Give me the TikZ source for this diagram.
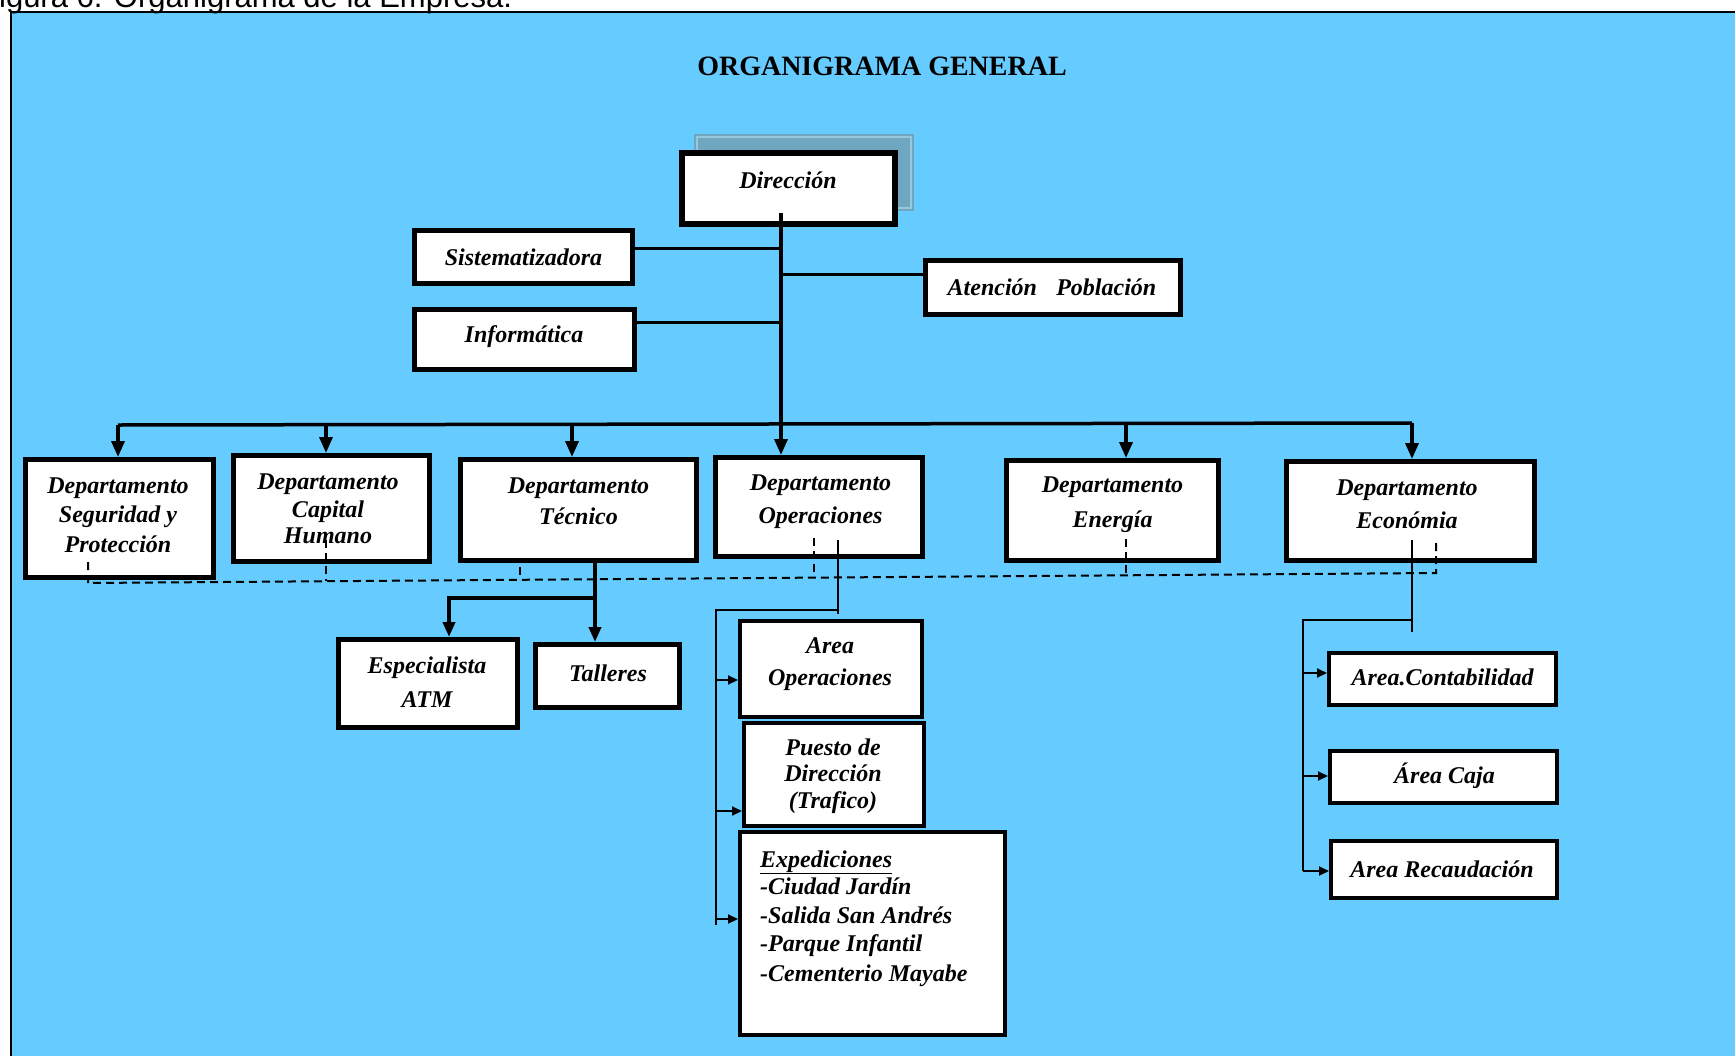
\documentclass[tikz,border=0pt]{standalone}
\usepackage{fontspec}
\setmainfont{Liberation Serif}
\newfontfamily\capfont{Liberation Sans}
\usetikzlibrary{arrows.meta}
\definecolor{bgblue}{RGB}{102,204,255}
\definecolor{shadowc}{RGB}{111,166,192}
\definecolor{shadowl}{RGB}{150,200,222}
\newcommand\tl[1]{\begin{tabular}[t]{@{}c@{}}#1\end{tabular}}
\newcommand\tll[1]{\begin{tabular}[t]{@{}l@{}}#1\end{tabular}}
\begin{document}
\begin{tikzpicture}[x=1pt,y=-1pt,
  box/.style={draw=black, fill=white, line width=5pt, inner sep=0pt, rectangle},
  thinbox/.style={box, line width=4pt},
  txt/.style={inner sep=0pt, anchor=base, font=\fontsize{24}{28}\selectfont\bfseries\itshape},
  txtl/.style={txt, anchor=base west},
  bigarr/.style={line width=3.5pt, -{Triangle[length=16pt,width=13pt]}},
  midarr/.style={line width=4pt, -{Triangle[length=15pt,width=12pt]}},
  smallarr/.style={line width=2pt, -{Triangle[length=10pt,width=9pt]}},
  link/.style={line width=3.5pt},
  thinlink/.style={line width=2pt},
  dline/.style={line width=2pt, dash pattern=on 8pt off 5pt}
]
\clip (0,0) rectangle (1735,1055);
% background and frame
\fill[bgblue] (10,12) rectangle (1745,1065);
\draw[line width=2pt] (1745,12) -- (10.5,12) -- (10.5,1065);
\node[inner sep=0pt, anchor=base west, font=\capfont\fontsize{31}{35}\selectfont] (caption) at (-20,7) {Figura 6. Organigrama de la Empresa.};
\node[inner sep=0pt, anchor=base, font=\fontsize{28}{32}\selectfont\bfseries] (title) at (882,75) {ORGANIGRAMA GENERAL};

% shadow of Direccion
\fill[shadowc] (694,134) rectangle (914,211);
\draw[shadowl, line width=1.5pt] (697,137) rectangle (911,208);

% boxes
\node[box, line width=6pt, minimum width=213pt, minimum height=71pt] (dir) at (788,188) {};
\node[box, minimum width=218pt, minimum height=53pt] (sis) at (523.5,257) {};
\node[box, minimum width=220pt, minimum height=60pt] (inf) at (524.5,339.5) {};
\node[box, minimum width=255pt, minimum height=54pt] (ate) at (1053,287.5) {};

\node[box, minimum width=188pt, minimum height=118pt] (seg) at (119.5,518.5) {};
\node[box, minimum width=196pt, minimum height=106pt] (capi) at (331,508.5) {};
\node[box, minimum width=236pt, minimum height=101pt] (tec) at (578.5,510) {};
\node[box, minimum width=207pt, minimum height=99pt] (ope) at (819,507) {};
\node[box, minimum width=212pt, minimum height=100pt] (ene) at (1112.5,510.5) {};
\node[box, minimum width=248pt, minimum height=99pt] (eco) at (1410.5,511) {};

\node[box, minimum width=179pt, minimum height=88pt] (esp) at (428,683.5) {};
\node[box, minimum width=144pt, minimum height=63pt] (tal) at (607.5,676) {};

\node[thinbox, minimum width=182pt, minimum height=96pt] (aop) at (831,669) {};
\node[thinbox, minimum width=180pt, minimum height=103pt] (pue) at (834,774.5) {};
\node[thinbox, minimum width=265pt, minimum height=203pt] (exp) at (872.5,933.5) {};

\node[thinbox, minimum width=227pt, minimum height=52pt] (con) at (1442.5,679) {};
\node[thinbox, minimum width=227pt, minimum height=52pt] (caj) at (1443.5,777) {};
\node[thinbox, minimum width=226pt, minimum height=57pt] (rec) at (1444,869.5) {};

% texts
\node[txt] (dirT) at (788,188) {Dirección};
\node[txt] (sisT) at (523.5,265) {Sistematizadora};
\node[txt] (infT) at (524,342) {Informática};
\node[txt] (ateT) at (1052,295) {Atención\hspace{0.8em}Población};

\node[txt] (segT) at (118,493) {\tl{Departamento\\[1pt] Seguridad y\\[2pt] Protección}};
\node[txt] (capiT) at (328,489) {\tl{Departamento\\ Capital\\[-2pt] Humano}};
\node[txt] (tecT) at (578.5,493) {\tl{Departamento\\[3pt] Técnico}};
\node[txt] (opeT) at (820.5,490) {\tl{Departamento\\[5pt] Operaciones}};
\node[txt] (eneT) at (1112.5,492) {\tl{Departamento\\[7pt] Energía}};
\node[txt] (ecoT) at (1407,495) {\tl{Departamento\\[5pt] Económia}};

\node[txt] (espT) at (427,673) {\tl{Especialista\\[6pt] ATM}};
\node[txt] (talT) at (608,681) {Talleres};
\node[txt] (aopT) at (830,653) {\tl{Area\\[4pt] Operaciones}};
\node[txt] (pueT) at (833,755) {\tl{Puesto de\\[-2pt] Dirección\\[-1pt] (Trafico)}};
\node[txtl] (expT) at (760,867) {\tll{\underline{Expediciones}\\[-1pt] -Ciudad Jardín\\[1pt] -Salida San Andrés\\ -Parque Infantil\\[2pt] -Cementerio Mayabe}};

\node[txt] (conT) at (1442.5,685) {Area.Contabilidad};
\node[txt] (cajT) at (1444.5,783) {Área Caja};
\node[txt] (recT) at (1442,877) {Area Recaudación};

% trunk and side links
\coordinate (trTop) at (781,213);
\coordinate (jS) at (781,248);
\coordinate (jA) at (781,274);
\coordinate (jI) at (781,322);
\draw[line width=3pt] (sis.east |- jS) -- (jS);
\draw[line width=3pt] (jA) -- (ate.west |- jA);
\draw[line width=3pt] (inf.east |- jI) -- (jI);

% bus
\coordinate (bL) at (118,425);
\coordinate (bR) at (1412,423);
\draw[link] (bL) -- (bR);
\draw[bigarr] (bL) -- (seg.north -| bL);
\draw[bigarr] (326,424.5) -- (capi.north -| 326,0);
\draw[bigarr] (572,424.2) -- (tec.north -| 572,0);
\draw[bigarr] (trTop) -- (ope.north -| trTop);
\draw[bigarr] (1126,423.4) -- (ene.north -| 1126,0);
\draw[bigarr] (bR) -- (eco.north -| bR);

% Tecnico subtree
\coordinate (tJ) at (595,598);
\draw[midarr] (tec.south -| tJ) -- (tal.north -| tJ);
\draw[midarr] (tJ) -| (esp.north -| 449,0);

% Operaciones subtree
\coordinate (oTop) at (838,540);
\coordinate (oJ) at (838,610);
\coordinate (oL) at (716,610);
\draw[thinlink] (oTop) -- (838,614);
\draw[thinlink] (oJ) -- (oL) -- (716,925);
\draw[smallarr] (716,680) -- (aop.west |- 0,680);
\draw[smallarr] (716,811) -- (pue.west |- 0,811);
\draw[smallarr] (716,919) -- (exp.west |- 0,919);

% Economia subtree
\coordinate (eTop) at (1412,540);
\coordinate (eJ) at (1412,620);
\coordinate (eL) at (1303,620);
\draw[thinlink] (eTop) -- (1412,632);
\draw[thinlink] (eJ) -- (eL) -- (1303,871);
\draw[smallarr] (1303,673) -- (con.west |- 0,673);
\draw[smallarr] (1303,776) -- (caj.west |- 0,776);
\draw[smallarr] (1303,871) -- (rec.west |- 0,871);

% dashed staff line
\draw[dline] (88,562) -- (88,583) -- (1436,573) -- (1436,543);
\draw[dline] (326,540) -- (326,581);
\draw[dline] (520,567) -- (520,580);
\draw[dline] (814,538) -- (814,576);
\draw[dline] (1126,539) -- (1126,575);
\end{tikzpicture}
\end{document}
